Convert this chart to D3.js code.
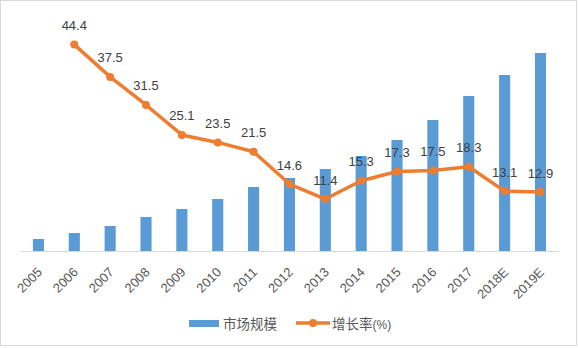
<!DOCTYPE html>
<html><head><meta charset="utf-8">
<script src="https://cdn.jsdelivr.net/npm/d3@7"></script>
<style>body{margin:0;background:#fff}svg{display:block}</style>
</head><body>
<svg id="c" width="578" height="348"></svg>
<script>
const categories = ['2005','2006','2007','2008','2009','2010','2011','2012','2013','2014','2015','2016','2017','2018E','2019E'];
const marketSize = [12,18,25,34,42,52,64,73,82,95,111,131,155,176,198];
const growth = [null,44.4,37.5,31.5,25.1,23.5,21.5,14.6,11.4,15.3,17.3,17.5,18.3,13.1,12.9];
const seriesNames = ['市场规模','增长率'];

const BLUE = '#5B9BD5', ORANGE = '#ED7D31';
const svg = d3.select('#c');
svg.append('rect').attr('x',0.5).attr('y',0.5).attr('width',576).attr('height',345)
  .attr('fill','#fff').attr('stroke','#d9d9d9');

const x = d3.scaleBand().domain(categories).range([20.5, 558.4]).paddingInner(0.69).paddingOuter(0.345);
const y1 = d3.scaleLinear().domain([0, 234]).range([251, 17]);
const y2 = d3.scaleLinear().domain([0, 50]).range([252.4, 18.4]);

// bars
svg.append('g').selectAll('rect').data(categories).join('rect')
  .attr('x', d => x(d)).attr('width', x.bandwidth())
  .attr('y', (d,i) => y1(marketSize[i])).attr('height', (d,i) => y1(0) - y1(marketSize[i]))
  .attr('fill', BLUE);

// axis
const xAxis = d3.axisBottom(x).tickSize(0).tickPadding(0);
const ax = svg.append('g').attr('transform', 'translate(0,251)').call(xAxis);
ax.select('.domain').attr('stroke', '#d9d9d9').attr('stroke-width', 1);
ax.selectAll('text')
  .attr('font-family', '"Liberation Sans", Arial, sans-serif').attr('font-size', 13).attr('fill', '#595959')
  .attr('text-anchor', 'end').attr('dy', null).attr('y', 0)
  .attr('transform', 'translate(4.5,22) rotate(-45)');

// line
const pts = categories.map((c,i) => ({c, v: growth[i]})).filter(d => d.v != null);
const cx = d => x(d.c) + x.bandwidth()/2;
svg.append('path').datum(pts)
  .attr('d', d3.line().x(cx).y(d => y2(d.v)))
  .attr('fill', 'none').attr('stroke', ORANGE).attr('stroke-width', 3.5).attr('stroke-linejoin', 'round');
svg.append('g').selectAll('circle').data(pts).join('circle')
  .attr('cx', cx).attr('cy', d => y2(d.v)).attr('r', 4).attr('fill', ORANGE);
svg.append('g').selectAll('text').data(pts).join('text')
  .attr('x', cx).attr('y', d => y2(d.v) - 14.5)
  .attr('text-anchor', 'middle')
  .attr('font-family', '"Liberation Sans", Arial, sans-serif').attr('font-size', 13).attr('fill', '#404040')
  .text(d => d.v.toFixed(1));

// legend
const lg = svg.append('g');
lg.append('rect').attr('x', 189).attr('y', 320).attr('width', 30).attr('height', 7).attr('fill', BLUE);
lg.append('text').attr('x', 223).attr('y', 328.5)
  .attr('font-family', '"Noto Sans CJK SC", sans-serif').attr('font-size', 13.5).attr('fill', '#595959')
  .text(seriesNames[0]);
lg.append('line').attr('x1', 296).attr('x2', 330).attr('y1', 323).attr('y2', 323)
  .attr('stroke', ORANGE).attr('stroke-width', 3.5);
lg.append('circle').attr('cx', 313).attr('cy', 323).attr('r', 4).attr('fill', ORANGE);
const t2 = lg.append('text').attr('x', 332).attr('y', 328.5)
  .attr('font-family', '"Noto Sans CJK SC", sans-serif').attr('font-size', 13.5).attr('fill', '#595959');
t2.append('tspan').text(seriesNames[1]);
t2.append('tspan').attr('font-family', '"Liberation Sans", Arial, sans-serif').attr('font-size', 12).text('(%)');
</script>
</body></html>
